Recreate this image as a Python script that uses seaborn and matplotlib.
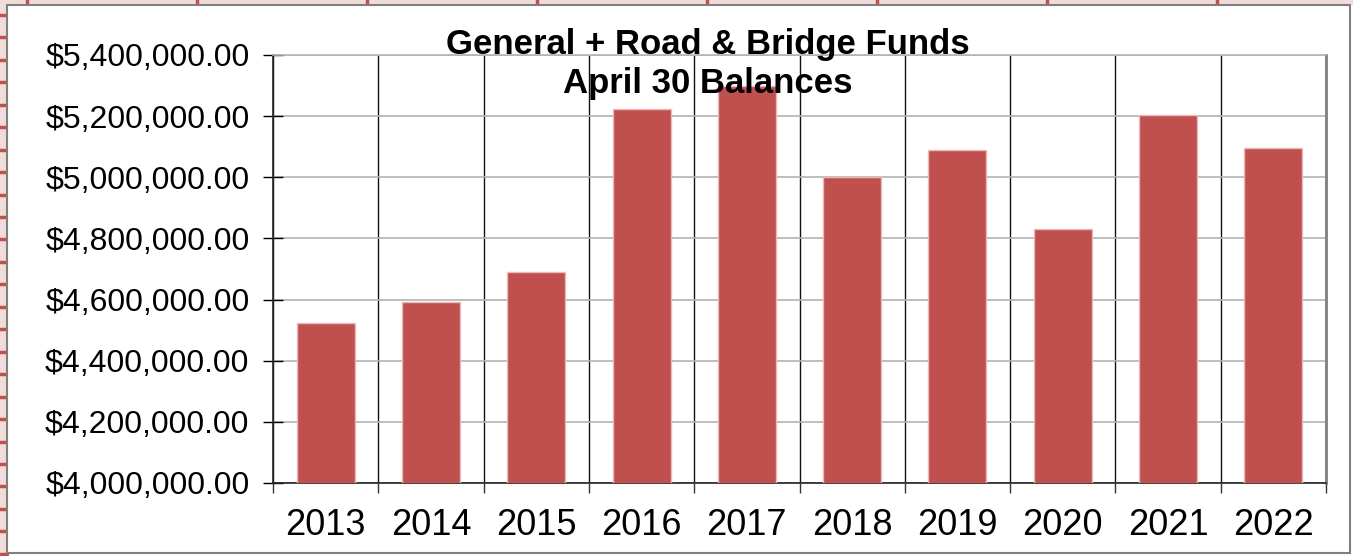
import matplotlib
matplotlib.use("Agg")  # headless mode (no GUI)

import matplotlib.pyplot as plt
import matplotlib.ticker as mticker
from matplotlib.lines import Line2D
from matplotlib.patches import Rectangle
import pandas as pd
import seaborn as sns

# data
years = ["2013", "2014", "2015", "2016", "2017", "2018", "2019", "2020", "2021", "2022"]
balances = [4522000, 4592000, 4690000, 5223000, 5299000, 5001000, 5089000, 4831000, 5204000, 5096000]
title_lines = ["General + Road & Bridge Funds", "April 30 Balances"]

df = pd.DataFrame({"year": years, "balance": balances})

sns.set_style("white")
plt.rcParams["font.family"] = ["Liberation Sans", "DejaVu Sans"]
plt.rcParams["text.color"] = "black"
plt.rcParams["xtick.color"] = "black"
plt.rcParams["ytick.color"] = "black"

fig = plt.figure(figsize=(13.53, 5.56), dpi=100)
W, H = 1353, 556

# spreadsheet look around the chart object
fig.add_artist(Rectangle((0, 1 - 5 / H), 1, 5 / H, transform=fig.transFigure,
                         facecolor="#f2dcdb", edgecolor="none", zorder=0))
fig.add_artist(Rectangle((0, 0), 7 / W, 1, transform=fig.transFigure,
                         facecolor="#f2dcdb", edgecolor="none", zorder=0))
for px in range(27, W, 170):
    fig.add_artist(Line2D([px / W, px / W], [1 - 5 / H, 1], transform=fig.transFigure,
                          color="#c0504d", lw=2.5, zorder=1))
py = 15.0
while py < H:
    fig.add_artist(Line2D([0, 7 / W], [1 - py / H, 1 - py / H], transform=fig.transFigure,
                          color="#c0504d", lw=2.5, zorder=1))
    py += 22.45
fig.add_artist(Rectangle((7 / W, 3 / H), 1343 / W, 548 / H, transform=fig.transFigure,
                         facecolor="white", edgecolor="#7f7f7f", lw=1.5, zorder=1))

ax = fig.add_axes([273 / W, 1 - 483 / H, 1053 / W, 428 / H])
ax.set_zorder(2)

sns.barplot(data=df, x="year", y="balance", color="#c0504d", width=0.55,
            edgecolor="#ebb9b8", linewidth=1, saturation=1, ax=ax, zorder=3)

ax.set_ylim(4000000, 5400000)
ax.set_xlim(-0.5, len(years) - 0.5)
ax.yaxis.set_major_locator(mticker.MultipleLocator(200000))
ax.yaxis.set_major_formatter(mticker.FuncFormatter(lambda v, p: f"${v:,.2f}"))

# category boundaries as minor ticks + vertical grid
ax.set_xticks([i - 0.5 for i in range(len(years) + 1)], minor=True)
ax.grid(axis="y", which="major", color="#b3b3b3", lw=1.2, zorder=0)
ax.grid(axis="x", which="minor", color="#111111", lw=1.0, zorder=0)
ax.grid(axis="x", which="major", visible=False)

ax.tick_params(axis="y", which="major", left=True, direction="inout", length=14, width=1,
               labelsize=23, pad=10, colors="black")
ax.tick_params(axis="x", which="major", bottom=False, labelsize=26, pad=14.5)
ax.tick_params(axis="x", which="minor", bottom=True, direction="out", length=7.5, width=1,
               color="#333333")

ax.set_xlabel("")
ax.set_ylabel("")

for side in ["left", "bottom"]:
    ax.spines[side].set_color("#222222")
    ax.spines[side].set_linewidth(1.2)
ax.spines["right"].set_color("#808080")
ax.spines["right"].set_linewidth(2)
ax.spines["top"].set_color("#b3b3b3")
ax.spines["top"].set_linewidth(1.2)

fig.text(708 / W, 1 - 64 / H, "\n".join(title_lines), ha="center", va="center",
         fontsize=25, fontweight="bold", linespacing=1.22, color="black", zorder=10)

fig.savefig("out.png", dpi=100)
